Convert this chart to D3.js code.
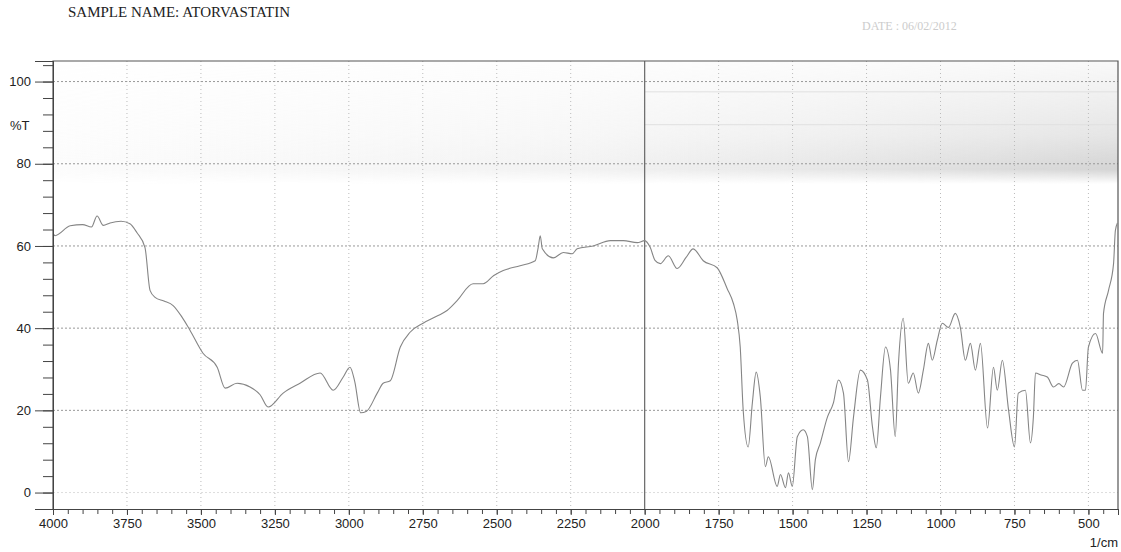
<!DOCTYPE html>
<html>
<head>
<meta charset="utf-8">
<script src="https://cdn.jsdelivr.net/npm/d3@7"></script>
<style>
  body { margin: 0; background: #fff; }
  svg { display: block; }
</style>
</head>
<body>
<svg id="chart"></svg>
<script>
// wavenumber (1/cm) and %T
var wavenumber = [4000, 3993, 3942, 3900, 3870, 3851, 3830, 3807, 3770, 3740, 3716, 3689, 3672, 3655,
  3625, 3594, 3565, 3537, 3493, 3445, 3418, 3378, 3334, 3300, 3273, 3222, 3165, 3097, 3053, 3020, 2996,
  2980, 2960, 2940, 2904, 2884, 2860, 2826, 2793, 2749, 2700, 2668, 2634, 2580, 2546, 2510, 2478, 2421,
  2370, 2360, 2353, 2346, 2309, 2275, 2245, 2228, 2174, 2116, 2072, 2025, 2000, 1981, 1965, 1947, 1920,
  1890, 1860, 1836, 1802, 1755, 1721, 1700, 1687, 1677, 1667, 1650, 1636, 1623, 1609, 1592, 1582, 1552,
  1541, 1524, 1514, 1501, 1484, 1464, 1450, 1433, 1423, 1406, 1382, 1362, 1345, 1328, 1311, 1294, 1271,
  1247, 1230, 1217, 1203, 1186, 1169, 1153, 1142, 1126, 1109, 1092, 1075, 1058, 1041, 1028, 1011, 994,
  973, 950, 933, 916, 899, 882, 865, 841, 821, 808, 791, 770, 750, 737, 713, 696, 686, 679, 660, 639,
  618, 600, 584, 554, 537, 520, 510, 500, 476, 452, 449, 432, 415, 409, 402];
var transmittance = [63.0, 62.5, 64.9, 65.2, 64.6, 67.3, 65.0, 65.6, 66.0, 65.4, 63.2, 59.6, 49.2, 47.5,
  46.6, 45.5, 42.8, 39.5, 33.9, 30.5, 25.4, 26.6, 25.7, 23.8, 20.8, 24.2, 26.6, 29.1, 24.9, 28.0, 30.5,
  27.0, 19.4, 19.8, 24.2, 26.6, 27.2, 35.4, 39.0, 41.2, 43.0, 44.3, 46.7, 50.8, 50.8, 52.8, 54.0, 55.2,
  56.4, 59.6, 62.5, 59.3, 57.1, 58.4, 58.1, 59.3, 60.0, 61.3, 61.3, 60.8, 61.3, 59.6, 56.5, 55.7, 57.6,
  54.5, 57.2, 59.3, 56.4, 54.7, 49.6, 46.0, 41.9, 35.4, 20.1, 11.1, 21.8, 29.3, 23.2, 6.3, 8.7, 1.5,
  4.4, 1.2, 4.8, 1.5, 13.6, 15.3, 13.6, 0.7, 8.0, 12.1, 18.4, 21.8, 27.4, 24.2, 7.5, 18.4, 29.8,
  27.4, 16.0, 10.9, 23.2, 35.4, 29.8, 13.6, 31.5, 42.4, 26.6, 29.1, 24.2, 29.8, 36.3, 32.2, 37.0, 41.2,
  40.2, 43.6, 40.2, 32.2, 36.3, 29.8, 36.3, 15.7, 30.5, 24.9, 32.2, 20.1, 11.1, 24.2, 24.9, 12.1, 18.4,
  29.1, 28.6, 28.1, 25.7, 26.5, 25.7, 31.5, 32.2, 24.9, 24.9, 35.4, 38.7, 33.9, 43.6, 49.2, 55.7, 63.7, 65.6];

var yMajor = [0, 20, 40, 60, 80, 100];
var xMajor = [4000, 3750, 3500, 3250, 3000, 2750, 2500, 2250, 2000, 1750, 1500, 1250, 1000, 750, 500];

var W = 1121, H = 552;
var margin = { top: 61, right: 3, bottom: 43, left: 53 };
var width = W - margin.left - margin.right;
var height = H - margin.top - margin.bottom;

var root = d3.select("#chart").attr("width", W).attr("height", H);

// scan shading: darker towards the right, fading in down to the 80 line
var defs = root.append("defs");
var gv = defs.append("linearGradient").attr("id", "shadeV").attr("x1", 0).attr("x2", 0).attr("y1", 0).attr("y2", 1);
gv.append("stop").attr("offset", 0).attr("stop-color", "#fff").attr("stop-opacity", 0.15);
gv.append("stop").attr("offset", 0.6).attr("stop-color", "#fff").attr("stop-opacity", 0.6);
gv.append("stop").attr("offset", 0.88).attr("stop-color", "#fff").attr("stop-opacity", 1);
gv.append("stop").attr("offset", 1).attr("stop-color", "#fff").attr("stop-opacity", 0);
var gh = defs.append("linearGradient").attr("id", "shadeH").attr("x1", 0).attr("x2", 1).attr("y1", 0).attr("y2", 0);
gh.append("stop").attr("offset", 0).attr("stop-color", "#e2e2e2").attr("stop-opacity", 0.12);
gh.append("stop").attr("offset", 0.5).attr("stop-color", "#dedede").attr("stop-opacity", 0.4);
gh.append("stop").attr("offset", 1).attr("stop-color", "#cfcfcf").attr("stop-opacity", 0.9);
var mask = defs.append("mask").attr("id", "shadeMask");
mask.append("rect").attr("x", 53).attr("y", 62).attr("width", 1065).attr("height", 122).attr("fill", "url(#shadeV)");
root.append("rect").attr("x", 53).attr("y", 62).attr("width", 1065).attr("height", 122)
  .attr("fill", "url(#shadeH)").attr("mask", "url(#shadeMask)");

var svg = root.append("g")
  .attr("transform", "translate(" + margin.left + "," + margin.top + ")");

var x = d3.scaleLinear().domain([4000, 400]).range([0, width]);
var y = d3.scaleLinear().domain([-4, 105]).range([height, 0]);

// faint scanner streaks
svg.append("g").selectAll("line").data([97.5, 89.5])
  .enter().append("line")
  .attr("x1", x(2000)).attr("x2", width)
  .attr("y1", function(d) { return y(d); }).attr("y2", function(d) { return y(d); })
  .attr("stroke", "#e0e0e0").attr("stroke-width", 1);

// dotted grid
svg.append("g").selectAll("line").data(xMajor.slice(1).filter(function(d) { return d != 2000; }))
  .enter().append("line")
  .attr("x1", function(d) { return x(d); }).attr("x2", function(d) { return x(d); })
  .attr("y1", 0).attr("y2", height)
  .attr("stroke", "#bbb").attr("stroke-width", 1).attr("stroke-dasharray", "1,3");
svg.append("g").selectAll("line").data(yMajor)
  .enter().append("line")
  .attr("x1", 0).attr("x2", width)
  .attr("y1", function(d) { return y(d); }).attr("y2", function(d) { return y(d); })
  .attr("stroke", function(d) { return d == 0 ? "#ddd" : "#999"; })
  .attr("stroke-width", 1).attr("stroke-dasharray", "2,2");

// fold line at 2000
svg.append("line")
  .attr("x1", x(2000)).attr("x2", x(2000)).attr("y1", 0).attr("y2", height)
  .attr("stroke", "#666").attr("stroke-width", 1.2);

// frame
svg.append("path")
  .attr("d", "M0," + height + "V0H" + width + "V" + height)
  .attr("fill", "none").attr("stroke", "#555").attr("stroke-width", 1.2);

// spectrum
var pts = wavenumber.map(function(w, i) { return { x: w, y: transmittance[i] }; });
var line = d3.line()
  .curve(d3.curveMonotoneX)
  .x(function(d) { return x(d.x); })
  .y(function(d) { return y(d.y); });
svg.append("path")
  .datum(pts)
  .attr("d", line)
  .attr("fill", "none")
  .attr("stroke", "#858585")
  .attr("stroke-width", 1.1);

// y axis
var yAxis = svg.append("g")
  .call(d3.axisLeft(y).tickValues(d3.range(-4, 105, 4)).tickSize(10).tickFormat(""));
yAxis.append("g")
  .call(d3.axisLeft(y).tickValues(yMajor).tickSize(18).tickFormat(d3.format("d")));
yAxis.selectAll("path.domain").attr("stroke", "#444");
yAxis.selectAll("line").attr("stroke", "#444");
yAxis.selectAll("text")
  .attr("fill", "#222").style("font-family", "Liberation Sans, Arial, sans-serif").style("font-size", "13px")
  .attr("x", -22);

// x axis
var xAxis = svg.append("g")
  .attr("transform", "translate(0," + height + ")")
  .call(d3.axisBottom(x).tickValues(d3.range(4000, 399, -50)).tickSize(5).tickFormat(""));
xAxis.append("g")
  .call(d3.axisBottom(x).tickValues(xMajor).tickSize(6).tickFormat(d3.format("d")));
xAxis.selectAll("path.domain").attr("stroke", "#444");
xAxis.selectAll("line").attr("stroke", "#444");
xAxis.selectAll("text")
  .attr("fill", "#222").style("font-family", "Liberation Sans, Arial, sans-serif").style("font-size", "13px")
  .attr("y", 10);

// labels
root.append("text").attr("x", 10).attr("y", 130)
  .style("font-family", "Liberation Sans, Arial, sans-serif").style("font-size", "13px").attr("fill", "#222")
  .text("%T");
root.append("text").attr("x", W - 3).attr("y", 547).attr("text-anchor", "end")
  .style("font-family", "Liberation Sans, Arial, sans-serif").style("font-size", "13px").attr("fill", "#222")
  .text("1/cm");
root.append("text").attr("x", 68).attr("y", 17)
  .style("font-family", "Liberation Serif, Times New Roman, serif").style("font-size", "15px").attr("fill", "#222")
  .text("SAMPLE NAME: ATORVASTATIN");
root.append("text").attr("x", 862).attr("y", 30)
  .style("font-family", "Liberation Serif, Times New Roman, serif").style("font-size", "12px").attr("fill", "#ccc")
  .text("DATE :  06/02/2012");
</script>
</body>
</html>
